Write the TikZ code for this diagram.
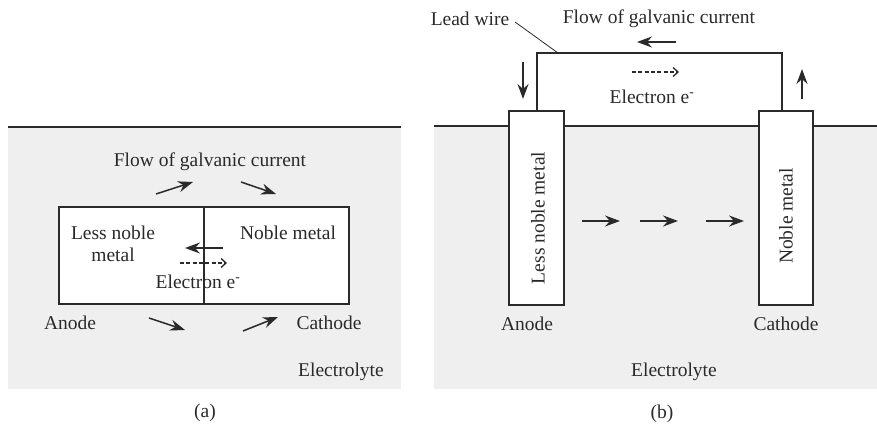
\documentclass[tikz,border=0pt]{standalone}
\usepackage{fontspec}
\setmainfont{Liberation Serif}
\usetikzlibrary{arrows.meta}
\definecolor{ink}{HTML}{2A2A2A}
\definecolor{elec}{HTML}{EFEFEF}
\tikzset{
  lbl/.style={inner sep=0pt, text=ink, font=\fontsize{19.5}{22}\selectfont},
  arr/.style={draw=ink, line width=1.5pt, -{Stealth[length=15pt,width=11pt,inset=5pt]}},
  darr/.style={draw=ink, line width=1.3pt, dash pattern=on 4pt off 2.3pt, -{Straight Barb[length=5pt,width=9pt]}},
  metalbox/.style={draw=ink, line width=1.3pt, fill=white},
  wire/.style={draw=ink, line width=1.3pt},
}
\begin{document}
\begin{tikzpicture}[x=1pt,y=-1pt]
\useasboundingbox (0,0) rectangle (877,425);
% ---------- panel (a) ----------
\fill[elec] (8,127) rectangle (401,389);
\draw[wire] (8,127) -- (401,127);
\node[lbl] (flowa) at (210,162) {Flow of galvanic current};
\draw[arr] (156,194) -- (193,182);
\draw[arr] (241,182) -- (276,194);
\draw[metalbox] (59,207) rectangle (349,304);
\draw[wire] (204,207) -- (204,304);
\node[lbl] (lessa1) at (113,233) {Less noble};
\node[lbl] (lessa2) at (113,255) {metal};
\node[lbl] (noblea) at (288,233) {Noble metal};
\draw[arr] (223,248) -- (185,248);
\draw[darr] (180,263) -- (227,263);
\node[lbl] (electa) at (198,282) {Electron e\textsuperscript{-}};
\node[lbl] (anodea) at (70,323) {Anode};
\node[lbl] (cathodea) at (329,323) {Cathode};
\draw[arr] (149,318) -- (185,330);
\draw[arr] (243,331) -- (278,317);
\node[lbl] (electrolytea) at (341,372) {Electrolyte};
\node[lbl] (capa) at (205,413) {(a)};
% ---------- panel (b) ----------
\fill[elec] (434,126) rectangle (877,389);
\draw[wire] (434,126) -- (877,126);
\draw[metalbox] (509,111) rectangle (564,305);
\draw[metalbox] (759,111) rectangle (813,305);
\draw[wire] (537,111) -- (537,53) -- (782,53) -- (782,111);
\node[lbl] (lead) at (470,19) {Lead wire};
\draw[draw=ink, line width=0.8pt] (515,22) -- (558,53);
\node[lbl] (flowb) at (659,19) {Flow of galvanic current};
\draw[arr] (676,42) -- (637,42);
\draw[darr] (632,72) -- (679,72);
\node[lbl] (electb) at (652,97) {Electron e\textsuperscript{-}};
\draw[arr] (523,62) -- (523,99);
\draw[arr] (802,99) -- (802,69);
\node[lbl, rotate=90] (lessb) at (538,218) {Less noble metal};
\node[lbl, rotate=90] (nobleb) at (786,216) {Noble metal};
\draw[arr] (582,221) -- (620,221);
\draw[arr] (640,221) -- (678,221);
\draw[arr] (706,221) -- (744,221);
\node[lbl] (anodeb) at (527,324) {Anode};
\node[lbl] (cathodeb) at (786,324) {Cathode};
\node[lbl] (electrolyteb) at (674,372) {Electrolyte};
\node[lbl] (capb) at (662,414) {(b)};
\end{tikzpicture}
\end{document}
